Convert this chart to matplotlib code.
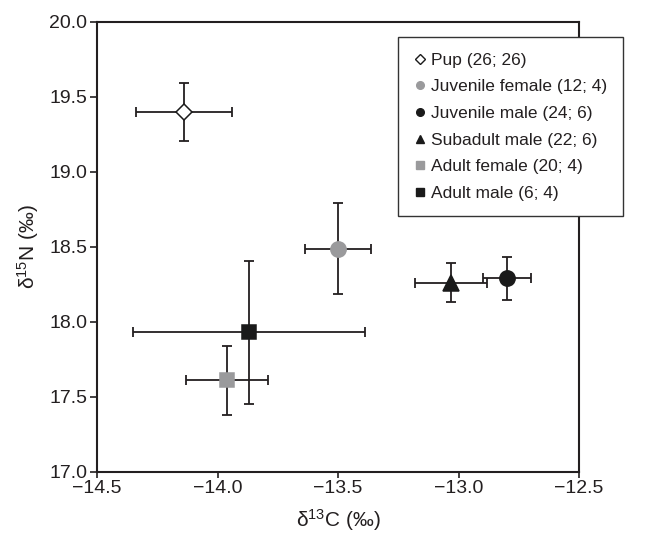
import matplotlib
matplotlib.use("Agg")
import matplotlib.pyplot as plt
from matplotlib.lines import Line2D

plt.rcParams['font.family'] = ['Liberation Sans', 'DejaVu Sans']
plt.rcParams['mathtext.fontset'] = 'custom'
plt.rcParams['mathtext.rm'] = 'Liberation Sans'
plt.rcParams['mathtext.it'] = 'Liberation Sans:italic'

labels = ["Pup (26; 26)", "Juvenile female (12; 4)", "Juvenile male (24; 6)",
          "Subadult male (22; 6)", "Adult female (20; 4)", "Adult male (6; 4)"]
d13c = [-14.14, -13.50, -12.80, -13.03, -13.96, -13.87]
d15n = [19.40, 18.49, 18.29, 18.26, 17.61, 17.93]
d13c_err = [0.20, 0.138, 0.10, 0.15, 0.169, 0.48]
d15n_err = [0.19, 0.305, 0.145, 0.13, 0.23, 0.475]
markers = ['D', 'o', 'o', '^', 's', 's']
facecolors = ['white', '#9a9a9c', '#1a1a1a', '#1a1a1a', '#9a9a9c', '#1a1a1a']
edgecolors = ['#1a1a1a', '#9a9a9c', '#1a1a1a', '#1a1a1a', '#9a9a9c', '#1a1a1a']
msizes = [8, 11, 11, 11, 9.6, 9.6]

W, H = 665, 541
fig = plt.figure(figsize=(W / 100, H / 100), dpi=100)
ax = fig.add_axes([97 / W, 1 - 472 / H, (579 - 97) / W, (472 - 22) / H])

for i in range(len(labels)):
    ax.errorbar(d13c[i], d15n[i], xerr=d13c_err[i], yerr=d15n_err[i],
                fmt='none', ecolor='#231f20', elinewidth=1.3, capsize=3.6,
                capthick=1.3, zorder=2)
    ax.plot(d13c[i], d15n[i], marker=markers[i], markersize=msizes[i],
            markerfacecolor=facecolors[i], markeredgecolor=edgecolors[i],
            markeredgewidth=1.1, linestyle='none', zorder=3)

ax.set_xlim(-14.5, -12.5)
ax.set_ylim(17.0, 20.0)
ax.set_xticks([-14.5, -14.0, -13.5, -13.0, -12.5])
ax.set_xticklabels(['\u221214.5', '\u221214.0', '\u221213.5', '\u221213.0', '\u221212.5'])
ax.set_yticks([17.0, 17.5, 18.0, 18.5, 19.0, 19.5, 20.0])
ax.set_yticklabels(['17.0', '17.5', '18.0', '18.5', '19.0', '19.5', '20.0'])
ax.tick_params(axis='y', direction='out', length=5, width=1.2, labelsize=14,
               colors='#231f20', pad=2)
ax.tick_params(axis='x', direction='out', length=4, width=1.2, labelsize=14,
               colors='#231f20', pad=2)
for s in ax.spines.values():
    s.set_linewidth(1.5)
    s.set_color('#231f20')

ax.set_xlabel(r'δ$^{13}$C (‰)', fontsize=15, color='#231f20', labelpad=7)
ax.set_ylabel(r'δ$^{15}$N (‰)', fontsize=15, color='#231f20', labelpad=6)

handles = []
lsizes = [4.8, 5.5, 5.5, 6, 5.2, 5.2]
for i in range(len(labels)):
    handles.append(Line2D([], [], marker=markers[i], markersize=lsizes[i], linestyle='none',
                          markerfacecolor=facecolors[i], markeredgecolor=edgecolors[i],
                          markeredgewidth=1.0))
leg = ax.legend(handles, labels, loc='upper left', bbox_to_anchor=(398 / W, 1 - 37 / H),
                bbox_transform=fig.transFigure,
                fontsize=12.5, frameon=True, fancybox=False, edgecolor='#333333',
                handlelength=0.7, handletextpad=0.3, labelspacing=0.66,
                borderpad=0.9, borderaxespad=0, framealpha=1)
leg.get_frame().set_linewidth(1.0)
for t in leg.get_texts():
    t.set_color('#231f20')

fig.savefig('out.png', dpi=100)
